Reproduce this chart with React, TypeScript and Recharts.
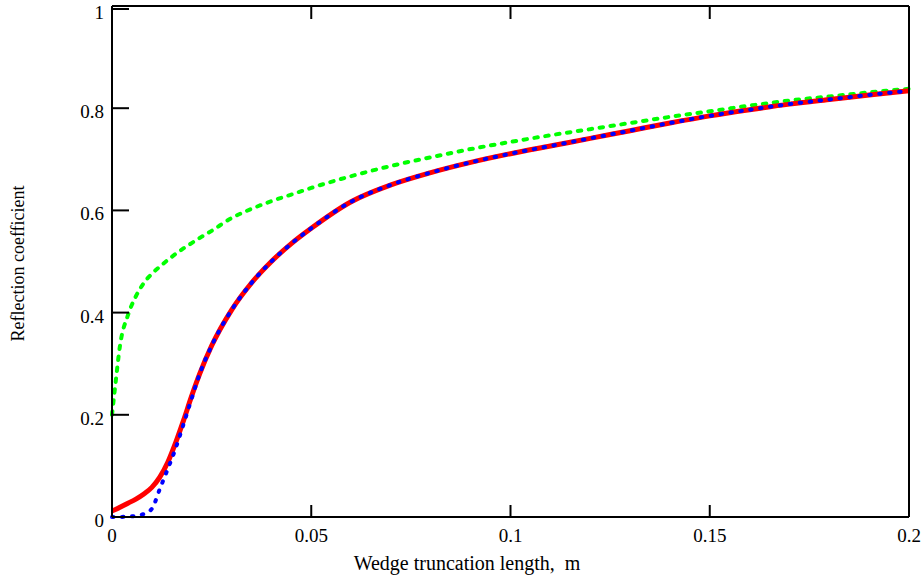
import React from 'react';
import { LineChart, Line, XAxis, YAxis } from 'recharts';

// truncation length (m) sampled for all three curves
const lengthM = [
  0, 0.001, 0.002, 0.004, 0.006, 0.008, 0.01, 0.012, 0.014, 0.016, 0.018, 0.02, 0.022,
  0.025, 0.03, 0.035, 0.04, 0.045, 0.05, 0.06, 0.07, 0.08, 0.09, 0.1, 0.11, 0.12, 0.13,
  0.14, 0.15, 0.16, 0.17, 0.18, 0.19, 0.2,
];

// solid red curve
const redR = [
  0.012, 0.015, 0.019, 0.027, 0.035, 0.045, 0.058, 0.078, 0.107, 0.146, 0.19, 0.237, 0.28,
  0.335, 0.405, 0.458, 0.5, 0.535, 0.565, 0.617, 0.65, 0.674, 0.694, 0.711, 0.726, 0.741, 0.756,
  0.771, 0.785, 0.797, 0.808, 0.817, 0.826, 0.834,
];

// dotted blue curve
const blueR = [
  0, 0, 0, 0.001, 0.002, 0.006, 0.016, 0.055, 0.094, 0.135, 0.183, 0.232, 0.28,
  0.335, 0.405, 0.458, 0.5, 0.535, 0.565, 0.617, 0.65, 0.674, 0.694, 0.711, 0.726, 0.741, 0.756,
  0.771, 0.785, 0.797, 0.808, 0.817, 0.826, 0.834,
];

// dashed green curve
const greenR = [
  0.2, 0.27, 0.335, 0.395, 0.432, 0.458, 0.476, 0.49, 0.503, 0.515, 0.526, 0.536, 0.546,
  0.56, 0.585, 0.603, 0.618, 0.631, 0.644, 0.667, 0.687, 0.704, 0.72, 0.734, 0.747, 0.759, 0.771,
  0.783, 0.794, 0.805, 0.815, 0.823, 0.831, 0.838,
];

const xTicks = [0, 0.05, 0.1, 0.15, 0.2];
const yTicks = [0, 0.2, 0.4, 0.6, 0.8, 1];

const rows = lengthM.map((x, i) => ({ x, red: redR[i], blue: blueR[i], green: greenR[i] }));

const FONT = '"Liberation Serif", "Times New Roman", serif';
const INK = '#000';

// inward tick marks, Mathcad style
const BottomTick = (p: any) => (
  <g>
    <line x1={p.x} y1={p.y} x2={p.x} y2={p.y - 12} stroke={INK} strokeWidth={2} />
    <text x={p.x} y={p.y + 25} textAnchor="middle" fontFamily={FONT} fontSize={19} fill={INK}>
      {p.payload.value}
    </text>
  </g>
);
const TopTick = (p: any) => (
  <line x1={p.x} y1={p.y} x2={p.x} y2={p.y + 13} stroke={INK} strokeWidth={2} />
);
const LeftTick = (p: any) => (
  <g>
    <line x1={p.x} y1={p.y} x2={p.x + 17} y2={p.y} stroke={INK} strokeWidth={2} />
    <text x={p.x - 8} y={p.y + 10} textAnchor="end" fontFamily={FONT} fontSize={19} fill={INK}>
      {p.payload.value}
    </text>
  </g>
);
const RightTick = (p: any) => (
  <line x1={p.x} y1={p.y} x2={p.x - 16} y2={p.y} stroke={INK} strokeWidth={2} />
);

export default function App() {
  return (
    <div style={{ position: 'absolute', left: 0, top: 0 }}>
      <LineChart width={922} height={579} data={rows} margin={{ top: 5, right: 12, bottom: 32, left: 82 }}>
        <XAxis
          xAxisId="b" dataKey="x" type="number" domain={[0, 0.2]} ticks={xTicks} height={30}
          tickSize={0} tickMargin={0} tick={BottomTick} axisLine={{ stroke: INK, strokeWidth: 2 }}
          label={{
            content: ({ viewBox }: any) => (
              <text x={viewBox.x + 355} y={viewBox.y + 53} textAnchor="middle" fontFamily={FONT} fontSize={20} fill={INK}>
                {'Wedge truncation length,\u00a0\u00a0m'}
              </text>
            ),
          }}
        />
        <XAxis
          xAxisId="t" orientation="top" dataKey="x" type="number" domain={[0, 0.2]} ticks={xTicks}
          height={1} tickSize={0} tickMargin={0} tick={TopTick} axisLine={{ stroke: INK, strokeWidth: 2 }}
        />
        <YAxis
          yAxisId="l" type="number" domain={[0, 1]} ticks={yTicks} width={30} tickSize={0} tickMargin={0}
          tick={LeftTick} axisLine={{ stroke: INK, strokeWidth: 2 }}
          label={{
            content: ({ viewBox }: any) => {
              const cx = viewBox.x + viewBox.width - 94;
              const cy = viewBox.y + viewBox.height / 2 + 2;
              return (
                <text x={cx} y={cy} transform={`rotate(-90 ${cx} ${cy})`} textAnchor="middle" dominantBaseline="central"
                  fontFamily={FONT} fontSize={18} fill={INK}>
                  Reflection coefficient
                </text>
              );
            },
          }}
        />
        <YAxis
          yAxisId="r" orientation="right" type="number" domain={[0, 1]} ticks={yTicks} width={1}
          tickSize={0} tickMargin={0} tick={RightTick} axisLine={{ stroke: INK, strokeWidth: 2 }}
        />
        <Line xAxisId="b" yAxisId="l" type="monotone" dataKey="green" stroke="#00ff00" strokeWidth={4}
          strokeDasharray="3.5 7.5" strokeLinecap="round" dot={false} isAnimationActive={false} />
        <Line xAxisId="b" yAxisId="l" type="monotone" dataKey="red" stroke="#ff0000" strokeWidth={5}
          dot={false} isAnimationActive={false} />
        <Line xAxisId="b" yAxisId="l" type="monotone" dataKey="blue" stroke="#0000ff" strokeWidth={4}
          strokeDasharray="1.5 8.5" strokeLinecap="round" dot={false} isAnimationActive={false} />
      </LineChart>
    </div>
  );
}
